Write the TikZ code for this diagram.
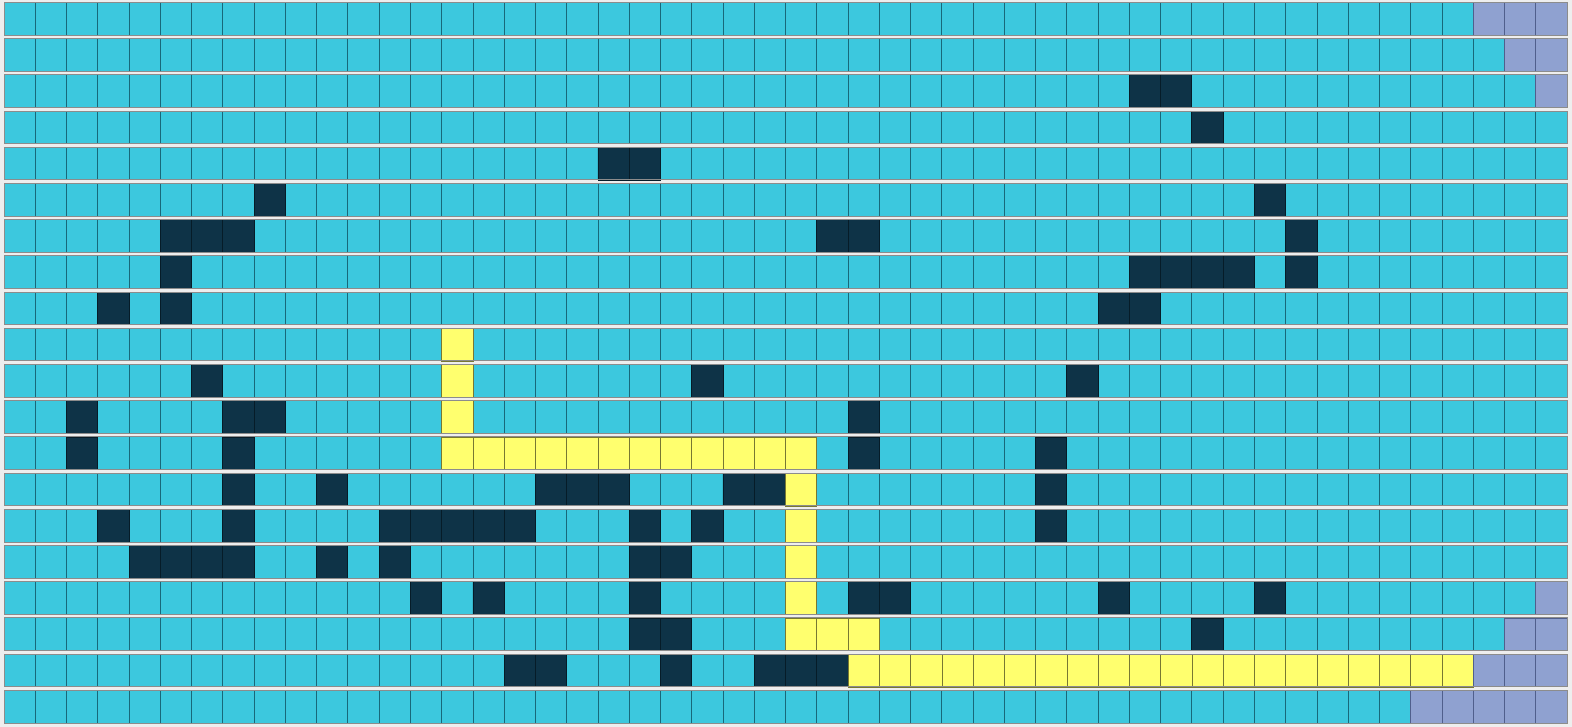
\documentclass[tikz,border=0pt]{standalone}
\definecolor{bgpaper}{RGB}{238,238,238}
\definecolor{floorcyan}{RGB}{60,200,222}
\definecolor{gridteal}{RGB}{24,104,122}
\definecolor{walldark}{RGB}{14,51,71}
\definecolor{walledge}{RGB}{6,28,40}
\definecolor{trailyellow}{RGB}{255,255,110}
\definecolor{trailedge}{RGB}{120,120,50}
\definecolor{goalpurple}{RGB}{143,161,208}
\definecolor{goaledge}{RGB}{80,95,140}
\definecolor{rowedge}{RGB}{140,140,140}

\begin{document}
\begin{tikzpicture}[x=1pt, y=-1pt,
    wallcell/.style={fill=walldark, draw=walledge, line width=0.8pt},
    trailcell/.style={fill=trailyellow, draw=trailedge, line width=0.6pt},
    goalcell/.style={fill=goalpurple, draw=goaledge, line width=0.8pt},
    rowbox/.style={draw=rowedge, line width=1pt}]
  \fill[bgpaper] (0,0) rectangle (1572,727);
  % the open floor, one band per row
  \fill[floorcyan] \foreach \rw in {0,...,19} {(4,{2.5+36.2*\rw}) rectangle ++(1563.3,32.7)};
  % the dividers between columns
  \draw[gridteal, line width=0.8pt] \foreach \rw in {0,...,19} {\foreach \cl in {1,...,49} {({4+31.26*\cl},{2.5+36.2*\rw}) -- ++(0,32.7)}};
  % the walls
  \filldraw[wallcell] \foreach \cl/\rw in {36/2,37/2, 38/3, 19/4,20/4, 8/5,40/5,
      5/6,6/6,7/6,26/6,27/6,41/6, 5/7,36/7,37/7,38/7,39/7,41/7,
      3/8,5/8,35/8,36/8, 6/10,22/10,34/10, 2/11,7/11,8/11,27/11,
      2/12,7/12,27/12,33/12, 7/13,10/13,17/13,18/13,19/13,23/13,24/13,33/13,
      3/14,7/14,12/14,13/14,14/14,15/14,16/14,20/14,22/14,33/14,
      4/15,5/15,6/15,7/15,10/15,12/15,20/15,21/15,
      13/16,15/16,20/16,27/16,28/16,35/16,40/16, 20/17,21/17,38/17,
      16/18,17/18,21/18,24/18,25/18,26/18}
    {({4+31.26*\cl},{2.5+36.2*\rw}) rectangle ++(31.26,32.7)};
  % the yellow trail
  \filldraw[trailcell] \foreach \cl/\rw in {14/9,14/10,14/11,
      14/12,15/12,16/12,17/12,18/12,19/12,20/12,21/12,22/12,23/12,24/12,25/12,
      25/13,25/14,25/15,25/16, 25/17,26/17,27/17,
      27/18,28/18,29/18,30/18,31/18,32/18,33/18,34/18,35/18,36/18,
      37/18,38/18,39/18,40/18,41/18,42/18,43/18,44/18,45/18,46/18}
    {({4+31.26*\cl},{2.5+36.2*\rw}) rectangle ++(31.26,32.7)};
  % the purple corners
  \filldraw[goalcell] \foreach \cl/\rw in {47/0,48/0,49/0, 48/1,49/1, 49/2, 49/16, 48/17,49/17,
      47/18,48/18,49/18, 45/19,46/19,47/19,48/19,49/19}
    {({4+31.26*\cl},{2.5+36.2*\rw}) rectangle ++(31.26,32.7)};
  % row frames
  \draw[rowbox] \foreach \rw in {0,...,19} {(4,{2.5+36.2*\rw}) rectangle ++(1563.3,32.7)};
\end{tikzpicture}
\end{document}
